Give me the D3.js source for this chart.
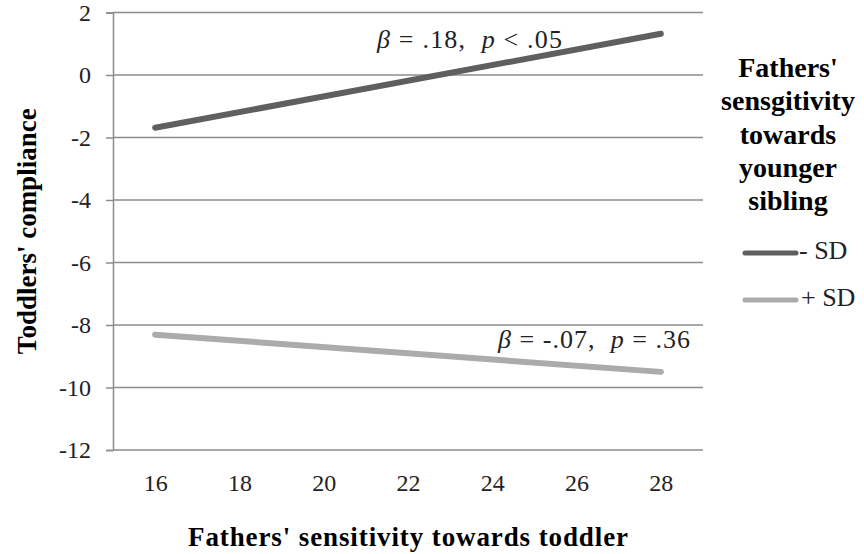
<!DOCTYPE html>
<html>
<head>
<meta charset="utf-8">
<script src="https://cdn.jsdelivr.net/npm/d3@7"></script>
<style>
  body { margin: 0; background: #fff; }
  svg { display: block; }
  svg text { font-family: "Liberation Serif", "DejaVu Serif", "Times New Roman", Times, serif; }
</style>
</head>
<body>
<svg id="chart"></svg>
<script>
    const width = 864
    const height = 554

    // categories on the x axis (fathers' sensitivity towards toddler)
    const categories = [16, 18, 20, 22, 24, 26, 28]
    const yTicks = [2, 0, -2, -4, -6, -8, -10, -12]

    // simple slopes, end points
    const minusSD = [{x: 16, y: -1.69}, {x: 28, y: 1.32}]
    const plusSD = [{x: 16, y: -8.31}, {x: 28, y: -9.5}]

    const seriesNames = ['- SD', '+ SD']
    const seriesColours = ['#5f5f5f', '#ababab']
    const annotations = ['β = .18,  p < .05', 'β = -.07,  p = .36']

    const legendTitle = ["Fathers'", 'sensgitivity', 'towards', 'younger', 'sibling']

    const plot = {left: 113, right: 703, top: 12.5, bottom: 450}

    const svg = d3.select('#chart')
        .attr('width', width)
        .attr('height', height)

    // scales
    const xScale = d3.scalePoint()
        .domain(categories)
        .range([plot.left, plot.right])
        .padding(0.5)
    const yScale = d3.scaleLinear()
        .domain([-12, 2])
        .range([plot.bottom, plot.top])

    // y ticks
    const yAxis = d3.axisLeft(yScale)
        .tickValues(yTicks)
        .tickSize(7)
        .tickPadding(15)
    const yg = svg.append('g')
        .attr('transform', `translate(${plot.left}, 0)`)
        .call(yAxis)
    yg.attr('font-family', null)
    yg.select('.domain').attr('stroke', '#8c8c8c').attr('stroke-width', 1.5)
    yg.selectAll('.tick line').attr('stroke', '#8c8c8c').attr('stroke-width', 1.5)
    yg.selectAll('.tick text')
        .style('font-size', '24px')
        .attr('fill', '#222')
        .text(d => d < 0 ? '-' + Math.abs(d) : d)

    // horizontal grid lines
    svg.append('g')
        .selectAll('line')
        .data(yTicks)
        .enter()
        .append('line')
            .attr('x1', plot.left)
            .attr('x2', plot.right)
            .attr('y1', d => yScale(d))
            .attr('y2', d => yScale(d))
            .attr('stroke', '#8c8c8c')
            .attr('stroke-width', 1.5)

    // x category labels (no tick marks)
    const xAxis = d3.axisBottom(xScale)
        .tickSize(0)
        .tickPadding(24)
    const xg = svg.append('g')
        .attr('transform', `translate(0, ${plot.bottom})`)
        .call(xAxis)
    xg.attr('font-family', null)
    xg.select('.domain').remove()
    xg.selectAll('.tick text')
        .style('font-size', '24px')
        .attr('fill', '#222')

    // axis titles
    svg.append('text')
        .attr('x', (plot.left + plot.right) / 2)
        .attr('y', 546)
        .attr('text-anchor', 'middle')
        .attr('textLength', 440)
        .attr('lengthAdjust', 'spacing')
        .style('font-size', '27px')
        .style('font-weight', 'bold')
        .text("Fathers' sensitivity towards toddler")
    svg.append('text')
        .attr('transform', `translate(30, ${(plot.top + plot.bottom) / 2}) rotate(-90)`)
        .attr('text-anchor', 'middle')
        .attr('dominant-baseline', 'middle')
        .style('font-size', '27px')
        .style('font-weight', 'bold')
        .text("Toddlers' compliance")

    // lines
    const line = d3.line()
        .x(d => xScale(d.x))
        .y(d => yScale(d.y))
    const series = [minusSD, plusSD]
    svg.append('g')
        .selectAll('path')
        .data(series)
        .enter()
        .append('path')
            .attr('d', line)
            .attr('fill', 'none')
            .attr('stroke', (d, i) => seriesColours[i])
            .attr('stroke-width', 6)
            .attr('stroke-linecap', 'round')

    // annotations (beta / p), italic letters, stretched to the width seen in the picture
    const annPos = [{x: 377, y: 48, w: 185}, {x: 498, y: 348, w: 192}]
    annotations.forEach((a, i) => {
        const t = svg.append('text')
            .attr('x', annPos[i].x)
            .attr('y', annPos[i].y)
            .attr('textLength', annPos[i].w)
            .attr('lengthAdjust', 'spacing')
            .attr('fill', '#222')
            .style('font-size', '26px')
            .style('white-space', 'pre')
        const parts = a.split(/([βp])/)
        parts.forEach(p => {
            if (!p) return
            t.append('tspan')
                .style('font-style', (p === 'β' || p === 'p') ? 'italic' : 'normal')
                .text(p)
        })
    })

    // legend
    const lg = svg.append('g')
    lg.selectAll('text.title')
        .data(legendTitle)
        .enter()
        .append('text')
            .attr('class', 'title')
            .attr('x', 788)
            .attr('y', (d, i) => 77 + i * 33.3)
            .attr('text-anchor', 'middle')
            .style('font-size', '28px')
            .style('font-weight', 'bold')
            .text(d => d)

    const legendY = [253, 300]
    seriesNames.forEach((name, i) => {
        lg.append('line')
            .attr('x1', 745)
            .attr('x2', 796)
            .attr('y1', legendY[i])
            .attr('y2', legendY[i])
            .attr('stroke', seriesColours[i])
            .attr('stroke-width', 5)
            .attr('stroke-linecap', 'round')
        lg.append('text')
            .attr('x', i === 0 ? 799 : 801)
            .attr('y', legendY[i])
            .attr('dominant-baseline', 'middle')
            .style('font-size', '26px')
            .attr('fill', '#222')
            .text(name)
    })
</script>
</body>
</html>
